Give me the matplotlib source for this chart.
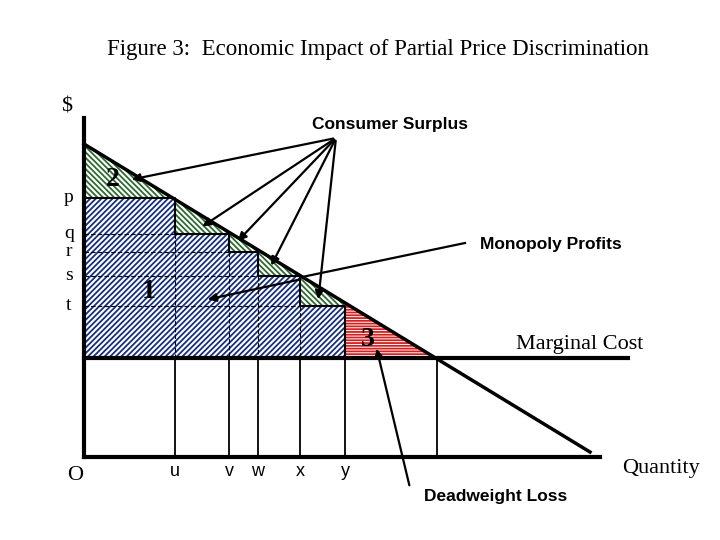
import matplotlib
matplotlib.use("Agg")
import matplotlib.pyplot as plt
from matplotlib.patches import Polygon

plt.rcParams["hatch.linewidth"] = 1.3

# diagram units (pixel-like, y grows downward)
ORIG_X = 84
DEM_TOP = 144          # demand intercept on price axis
DEM_END = (590, 452)
MC = 358
BASE = 457
q_labels = ["u", "v", "w", "x", "y"]
q_steps = [175, 229, 258, 300, 345]
p_labels = ["p", "q", "r", "s", "t"]
p_steps = [198, 234, 252, 276, 306]
q_comp = 437           # competitive quantity (demand meets MC)

slope = (DEM_END[1] - DEM_TOP) / (DEM_END[0] - ORIG_X)
def dem(x):
    return DEM_TOP + slope * (x - ORIG_X)

fig = plt.figure(figsize=(7.2, 5.4), dpi=100)
ax = fig.add_axes([0, 0, 1, 1])
ax.set_xlim(0, 720)
ax.set_ylim(540, 0)
ax.axis("off")

# blue profits area (under the steps)
pts = [(ORIG_X, MC), (ORIG_X, p_steps[0])]
for i, (qx, py) in enumerate(zip(q_steps, p_steps)):
    pts += [(qx, py), (qx, p_steps[i + 1] if i + 1 < len(p_steps) else MC)]
ax.add_patch(Polygon(pts, closed=True, facecolor="white", edgecolor="#16307f",
                     hatch="//////", lw=0))
# green consumer surplus triangles
xs = [ORIG_X] + q_steps[:-1]
for x0, py, qx in zip(xs, p_steps, q_steps):
    tri = [(x0, dem(x0)), (x0, py), (qx, py), (qx, dem(qx))]
    ax.add_patch(Polygon(tri, closed=True, facecolor="white", edgecolor="#2e6b30",
                         hatch="\\\\\\\\\\\\", lw=0))
# red deadweight loss
ax.add_patch(Polygon([(q_steps[-1], dem(q_steps[-1])), (q_steps[-1], MC), (q_comp, MC)],
                     closed=True, facecolor="white", edgecolor="#d32020", hatch="------", lw=0))

# step outlines
sx, sy = [ORIG_X], [p_steps[0]]
for i, (qx, py) in enumerate(zip(q_steps, p_steps)):
    sx += [qx, qx]
    sy += [py, p_steps[i + 1] if i + 1 < len(p_steps) else MC]
ax.plot(sx, sy, color="black", lw=1.5)

# dashed guides
for i, py in enumerate(p_steps[1:]):
    ax.plot([ORIG_X, q_steps[i]], [py, py], color="black", lw=0.8, ls=(0, (4, 2)))
for i, qx in enumerate(q_steps[:-1]):
    ax.plot([qx, qx], [p_steps[i + 1], MC], color="black", lw=0.8, ls=(0, (4, 2)))

# verticals below MC
for qx in q_steps + [q_comp]:
    ax.plot([qx, qx], [MC, BASE], color="black", lw=1.3)

# axes, demand, MC
ax.plot([ORIG_X, ORIG_X], [118, BASE], color="black", lw=3)
ax.plot([ORIG_X, 600], [BASE, BASE], color="black", lw=3)
ax.plot([ORIG_X, 628], [MC, MC], color="black", lw=3)
ax.plot([ORIG_X, DEM_END[0]], [DEM_TOP, DEM_END[1]], color="black", lw=2.5)

serif = ["Liberation Serif", "DejaVu Serif"]
sans = ["Liberation Sans", "DejaVu Sans"]
ax.text(378, 50, "Figure 3:  Economic Impact of Partial Price Discrimination",
        family=serif, fontsize=16.5, ha="center", va="center")
ax.text(67, 107, "$", family=serif, fontsize=16, ha="center", va="center")
ax.text(390, 125, "Consumer Surplus", family=sans, fontsize=12.5, weight="bold",
        ha="center", va="center")
ax.text(551, 244, "Monopoly Profits", family=sans, fontsize=12.5, weight="bold",
        ha="center", va="center")
ax.text(580, 344, "Marginal Cost", family=serif, fontsize=16, ha="center", va="center")
ax.text(661, 469, "Quantity", family=serif, fontsize=16, ha="center", va="center")
ax.text(75, 476, "O", family=serif, fontsize=16, ha="center", va="center")
ax.text(496, 497, "Deadweight Loss", family=sans, fontsize=12.5, weight="bold",
        ha="center", va="center")
for lab, qx in zip(q_labels, q_steps):
    ax.text(qx, 472, lab, family=sans, fontsize=13, ha="center", va="center")
for lab, py in zip(p_labels, p_steps):
    ax.text(69, py, lab, family=serif, fontsize=14, ha="center", va="center")
for lab, (x, y) in zip(["1", "2", "3"], [(149, 292), (113, 180), (368, 340)]):
    ax.text(x, y, lab, family=serif, fontsize=20, weight="bold", ha="center", va="center")

arr = dict(arrowstyle="-|>", color="black", lw=1.6, mutation_scale=12)
for tx, ty in [(129, 180), (200, 228), (236, 243), (270, 268), (318, 302)]:
    ax.annotate("", xy=(tx, ty), xytext=(336, 138), arrowprops=arr)
ax.plot([465, 302], [243, 277], color="black", lw=1.6)
ax.annotate("", xy=(205, 300), xytext=(302, 279), arrowprops=arr)
ax.annotate("", xy=(376, 346), xytext=(410, 488), arrowprops=arr)

fig.savefig("out.png", dpi=100)
